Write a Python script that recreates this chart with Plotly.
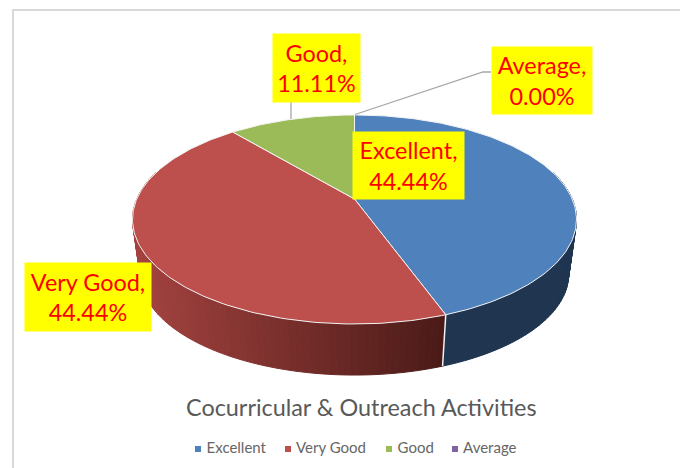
import math
import plotly.graph_objects as go

# --- data ---
categories = ["Excellent", "Very Good", "Good", "Average"]
counts = [4, 4, 1, 0]
top_colors = ["#4f81bd", "#bd4f4c", "#9bbb59", "#8064a2"]
chart_title = "Cocurricular & Outreach Activities"

# --- perspective model of the pie ---
APEX_X, APEX_Y = 354.5, 199.0
K = 0.196
TOP_R, TOP_S = 217.7, 100.5
BOT_R, BOT_S, BOT_Y = 210.0, 97.0, 254.4
FONT = "Lato"


def project(theta, r, s, y0):
    u, v = math.sin(theta), -math.cos(theta)
    d = 1 - K * v
    return APEX_X + r * u / d, y0 + s * v / d


def top(theta):
    return project(theta, TOP_R, TOP_S, APEX_Y)


def bottom(theta):
    return project(theta, BOT_R, BOT_S, BOT_Y)


def mix(a, b, t):
    t = max(0.0, min(1.0, t))
    return "#%02x%02x%02x" % tuple(round(a[i] + (b[i] - a[i]) * t) for i in range(3))


total = sum(counts)
fractions = [c / total for c in counts]
edges = [0.0]
for f in fractions:
    edges.append(edges[-1] + f * 2 * math.pi)

fig = go.Figure()

# side walls (only the part facing the viewer); shade runs left to right on the page
VIS_A, VIS_B = math.radians(74), math.radians(286)
side_shades = {
    "Excellent": ((31, 53, 80), (31, 53, 80), 440, 580),
    "Very Good": ((165, 67, 64), (74, 26, 23), 135, 444),
}
for i, name in enumerate(categories):
    if name not in side_shades:
        continue
    a, b = max(edges[i], VIS_A), min(edges[i + 1], VIS_B)
    if b <= a:
        continue
    steps = max(2, int(math.degrees(b - a) / 1.5))
    c0, c1, xa, xb = side_shades[name]
    for s in range(steps):
        t0 = a + (b - a) * s / steps
        t1 = a + (b - a) * (s + 1) / steps
        p = [top(t0), top(t1), bottom(t1), bottom(t0), top(t0)]
        xm = sum(q[0] for q in p[:4]) / 4
        col = mix(c0, c1, (xm - xa) / (xb - xa))
        fig.add_trace(go.Scatter(
            x=[q[0] for q in p], y=[q[1] for q in p], mode="lines", fill="toself",
            fillcolor=col, line=dict(color=col, width=1), hoverinfo="skip", showlegend=False))

# white seam between the side walls
seam = [top(edges[1]), bottom(edges[1])]
fig.add_trace(go.Scatter(x=[q[0] for q in seam], y=[q[1] for q in seam], mode="lines",
                         line=dict(color="#f2f2f2", width=1.5), hoverinfo="skip", showlegend=False))

# top wedges
for i, name in enumerate(categories):
    a, b = edges[i], edges[i + 1]
    if b - a <= 0:
        continue
    n = max(4, int(math.degrees(b - a)))
    pts = [top(a + (b - a) * s / n) for s in range(n + 1)]
    xs = [APEX_X] + [q[0] for q in pts] + [APEX_X]
    ys = [APEX_Y] + [q[1] for q in pts] + [APEX_Y]
    fig.add_trace(go.Scatter(x=xs, y=ys, mode="lines", fill="toself", fillcolor=top_colors[i],
                             line=dict(color="#f4f4f4", width=1), name=name,
                             hoverinfo="skip", showlegend=False))

# leader lines
leaders = [([291, 291], [102, 119]), ([355, 483, 491], [114.5, 72, 72])]
for lx, ly in leaders:
    fig.add_trace(go.Scatter(x=lx, y=ly, mode="lines", line=dict(color="#a6a6a6", width=1.3),
                             hoverinfo="skip", showlegend=False))

# data labels
label_boxes = {
    "Excellent": (353, 464, 132, 199),
    "Very Good": (25, 151, 263, 331),
    "Good": (273, 360, 34, 102),
    "Average": (492, 592, 47, 114),
}
for name, c in zip(categories, counts):
    x0, x1, y0, y1 = label_boxes[name]
    fig.add_annotation(x=(x0 + x1) / 2, y=(y0 + y1) / 2, xref="x", yref="y",
                       text=f"{name},<br>{c / total * 100:.2f}%", showarrow=False,
                       width=x1 - x0, height=y1 - y0, bgcolor="#ffff00", borderpad=0,
                       align="center", valign="middle",
                       font=dict(family=FONT, size=23.4, color="#ff0000"))

# title
fig.add_annotation(x=361.5, y=407, xref="x", yref="y", text=chart_title, showarrow=False,
                   font=dict(family=FONT, size=23.4, color="#595959"))

# legend row
legend_x = [198, 288, 389, 455]
legend_y = 449
for lx, name, col in zip(legend_x, categories, top_colors):
    fig.add_trace(go.Scatter(x=[lx], y=[legend_y], mode="markers+text", text=[" " + name],
                             textposition="middle right", name=name,
                             marker=dict(symbol="square", size=6, color=col),
                             textfont=dict(family=FONT, size=15, color="#666666"),
                             hoverinfo="skip", showlegend=False))

fig.update_layout(
    width=680, height=468, margin=dict(l=0, r=0, t=0, b=0),
    paper_bgcolor="#ffffff", plot_bgcolor="#ffffff", showlegend=False,
    xaxis=dict(range=[0, 680], visible=False, fixedrange=True),
    yaxis=dict(range=[468, 0], visible=False, fixedrange=True),
    shapes=[dict(type="rect", x0=13, y0=10, x1=720, y1=520, xref="x", yref="y",
                 line=dict(color="#d9d9d9", width=2), layer="below")],
)
fig.write_html("out.html", config={"displayModeBar": False},
               post_script="document.body.style.margin='0';")
